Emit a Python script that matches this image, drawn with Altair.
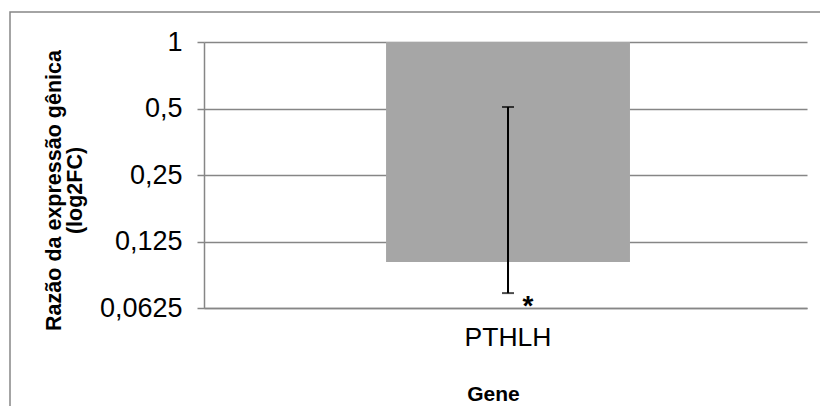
import altair as alt
import pandas as pd

genes = ["PTHLH"]
ratios = [0.101]
err_low = [0.073]
err_high = [0.508]
signif = ["*"]
tick_values = [0.0625, 0.125, 0.25, 0.5, 1]

df = pd.DataFrame({"gene": genes, "ratio": ratios, "lo": err_low, "hi": err_high, "sig": signif})

GRID = "#868686"
FONT = "Liberation Sans"

yscale = alt.Scale(type="log", base=2, domain=[0.0625, 1], nice=False)
xenc = alt.X(
    "gene:N",
    scale=alt.Scale(paddingInner=0, paddingOuter=0.736, align=0.507),
    axis=alt.Axis(
        title="Gene", titleFont=FONT, titleFontSize=21, titleFontWeight="bold", titleColor="black",
        titleX=289, titleY=92, titleBaseline="alphabetic",
        labelAngle=0, labelFont=FONT, labelFontSize=26.5, labelColor="black", labelPadding=16,
        ticks=False, tickSize=0, domainColor=GRID, domainWidth=1.5, grid=False,
    ),
)

yaxis = alt.Axis(
    values=tick_values,
    labelExpr="replace(toString(datum.value), '.', ',')",
    grid=True, gridColor=GRID, gridWidth=1.5,
    domainColor=GRID, domainWidth=1.5,
    tickColor=GRID, tickSize=7, tickWidth=1.5,
    labelFont=FONT, labelFontSize=27, labelColor="black", labelPadding=15,
    title=["Razão da expressão gênica", "(log2FC)"],
    titleFont=FONT, titleFontSize=21.5, titleFontWeight="bold", titleColor="black",
    titleAngle=270, titleX=-161, titleY=148, titleBaseline="top", titleAlign="center",
    titleLineHeight=21,
)

base = alt.Chart(df)

frame = base.mark_rect(filled=False, stroke=GRID, strokeWidth=1.5).encode(
    x=alt.value(-194), x2=alt.value(700), y=alt.value(-30), y2=alt.value(500)
)

bars = base.mark_bar(color="#a6a6a6").encode(
    x=xenc,
    y=alt.Y("ratio:Q", scale=yscale, axis=yaxis),
    y2=alt.datum(1),
)

rule = base.mark_rule(color="black", strokeWidth=2).encode(
    x="gene:N", y=alt.Y("lo:Q", scale=yscale), y2="hi:Q"
)
cap_lo = base.mark_tick(color="black", thickness=2, size=12).encode(
    x="gene:N", y=alt.Y("lo:Q", scale=yscale)
)
cap_hi = base.mark_tick(color="black", thickness=2, size=12).encode(
    x="gene:N", y=alt.Y("hi:Q", scale=yscale)
)
star = base.mark_text(font=FONT, fontSize=28, fontWeight="bold", color="black",
                      baseline="alphabetic", dx=20, dy=22).encode(
    x="gene:N", y=alt.Y("lo:Q", scale=yscale), text="sig:N"
)

chart = alt.layer(frame, bars, rule, cap_lo, cap_hi, star).properties(
    width=603, height=266,
    background="white",
    autosize=alt.AutoSizeParams(type="none"),
    padding={"left": 196, "top": 34, "right": 13, "bottom": 98},
).configure_view(stroke=None)

chart.save("out.html", embed_options={"renderer": "svg", "actions": False})
